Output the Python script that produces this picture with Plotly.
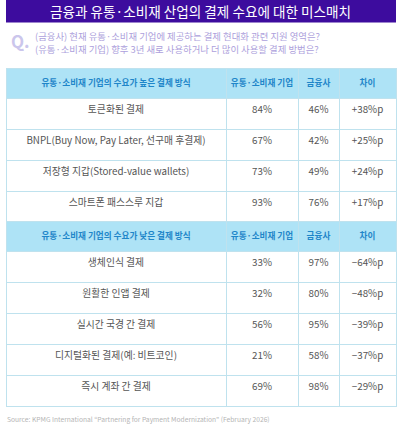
import plotly.graph_objects as go

W, H = 400, 426

title = "금융과 유통·소비재 산업의 결제 수요에 대한 미스매치"
question = ["(금융사) 현재 유통·소비재 기업에 제공하는 결제 현대화 관련 지원 영역은?",
            "(유통·소비재 기업) 향후 3년 새로 사용하거나 더 많이 사용할 결제 방법은?"]
source = "Source: KPMG International \u201cPartnering for Payment Modernization\u201d (February 2026)"

cols_high = ["유통·소비재 기업의 수요가 높은 결제 방식", "유통·소비재\u00a0기업", "금융사", "차이"]
methods_high = ["토큰화된 결제", "BNPL(Buy Now, Pay Later, 선구매 후결제)",
                "저장형 지갑(Stored-value wallets)", "스마트폰 패스스루 지갑"]
retail_high = [84, 67, 73, 93]
finance_high = [46, 42, 49, 76]

cols_low = ["유통·소비재 기업의 수요가 낮은 결제 방식", "유통·소비재\u00a0기업", "금융사", "차이"]
methods_low = ["생체인식 결제", "원활한 인앱 결제", "실시간 국경 간 결제",
               "디지털화된 결제(예: 비트코인)", "즉시 계좌 간 결제"]
retail_low = [33, 32, 56, 21, 69]
finance_low = [97, 80, 95, 58, 98]

FONT = "Noto Sans CJK KR"
HEAD_BG = "#aee3f6"
HEAD_TXT = "#1f86c9"
LINE = "#bfe2ee"
BODY_TXT = "#555555"


def px_x(v):
    return v / W


def px_y(v):
    return 1 - v / H


def diff_text(a, b):
    return [f"{x - y:+d}%p".replace("-", "\u2212") for x, y in zip(a, b)]


def make_table(cols, methods, retail, finance, top, bottom, head_h, row_h):
    return go.Table(
        domain=dict(x=[px_x(6), px_x(396)], y=[px_y(bottom), px_y(top)]),
        columnwidth=[220, 72, 41, 57],
        header=dict(
            values=[f"<b>{c}</b>" for c in cols],
            fill_color=HEAD_BG,
            line=dict(color=LINE, width=1),
            font=dict(family=FONT, size=8.6, color=HEAD_TXT),
            align="center",
            height=head_h,
        ),
        cells=dict(
            values=[methods,
                    [f"{v}%" for v in retail],
                    [f"{v}%" for v in finance],
                    diff_text(retail, finance)],
            fill_color="white",
            line=dict(color=LINE, width=1),
            font=dict(family=FONT, size=9.8, color=BODY_TXT),
            align="center",
            height=row_h,
        ),
    )


fig = go.Figure()
fig.add_trace(make_table(cols_high, methods_high, retail_high, finance_high, 68, 226, 30, 31))
fig.add_trace(make_table(cols_low, methods_low, retail_low, finance_low, 221, 412, 30, 31))

fig.add_shape(type="rect", xref="paper", yref="paper",
              x0=px_x(6), x1=px_x(396), y0=px_y(22.5), y1=px_y(0),
              fillcolor="#3d0c9e", line_width=0)

fig.add_annotation(x=px_x(201), y=px_y(11), xref="paper", yref="paper",
                   xanchor="center", yanchor="middle",
                   text=title, showarrow=False,
                   font=dict(family=FONT, size=13.6, color="white"))
fig.add_annotation(x=px_x(10), y=px_y(40), xref="paper", yref="paper",
                   xanchor="left", yanchor="middle", text="<b>Q.</b>", showarrow=False,
                   borderpad=0, font=dict(family=FONT, size=17, color="#cbc6ec"))
for line, ly in zip(question, [36.5, 48.5]):
    fig.add_annotation(x=px_x(34), y=px_y(ly), xref="paper", yref="paper",
                       xanchor="left", yanchor="middle", align="left",
                       text=line, showarrow=False, borderpad=0,
                       font=dict(family=FONT, size=9.4, color="#ad9fdc"))
fig.add_annotation(x=px_x(5), y=px_y(419), xref="paper", yref="paper",
                   xanchor="left", yanchor="middle", text=source, showarrow=False,
                   font=dict(family=FONT, size=6.7, color="#b5b5b5"))

fig.update_layout(width=W, height=H, margin=dict(l=0, r=0, t=0, b=0),
                  paper_bgcolor="white", plot_bgcolor="white")

fig.write_html("out.html", config={"displayModeBar": False},
               post_script="document.body.style.margin='0';document.body.style.overflow='hidden';")
